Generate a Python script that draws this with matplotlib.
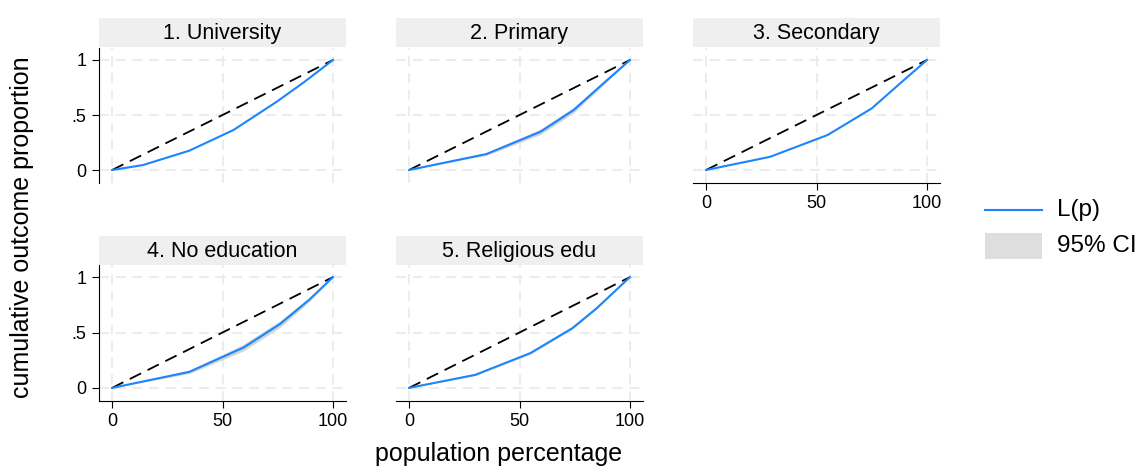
import matplotlib.pyplot as plt
import numpy as np

plt.rcParams["font.family"] = ["Liberation Sans", "DejaVu Sans"]

# Lorenz-type curves (x: population %, y: cumulative share)
titles = ["1. University", "2. Primary", "3. Secondary", "4. No education", "5. Religious edu"]

x_uni = [0, 14, 35, 55, 74.5, 87, 100]
y_uni = [0, 0.045, 0.176, 0.364, 0.62, 0.80, 1]

x_pri = [0, 35, 59.5, 74.5, 88, 100]
y_pri = [0, 0.145, 0.348, 0.545, 0.788, 1]
ci_pri = [0, 0.012, 0.025, 0.025, 0.015, 0]

x_sec = [0, 29, 55, 75, 88, 100]
y_sec = [0, 0.12, 0.318, 0.56, 0.79, 1]

x_noe = [0, 35, 59.5, 76, 89.5, 100]
y_noe = [0, 0.145, 0.364, 0.576, 0.80, 1]
ci_noe = [0, 0.015, 0.03, 0.03, 0.018, 0]

x_rel = [0, 30, 55, 74, 85, 100]
y_rel = [0, 0.118, 0.315, 0.54, 0.72, 1]
ci_rel = [0, 0.006, 0.01, 0.01, 0.006, 0]

series = [
    (x_uni, y_uni, None),
    (x_pri, y_pri, ci_pri),
    (x_sec, y_sec, None),
    (x_noe, y_noe, ci_noe),
    (x_rel, y_rel, ci_rel),
]

xticks = [0, 50, 100]
yticks = [0, 0.5, 1]
ytick_labels = ["0", ".5", "1"]

W, H = 1141, 468
fig = plt.figure(figsize=(W / 100, H / 100), dpi=100)

def rect(x0, y0, x1, y1):
    # pixel box (top-left origin) -> figure fraction
    return [x0 / W, 1 - y1 / H, (x1 - x0) / W, (y1 - y0) / H]

cols = [(99, 346), (396, 643), (693, 940)]
rows = [(48, 183), (265, 401)]
strips = [(18, 47), (236, 265)]
pos = [(0, 0), (0, 1), (0, 2), (1, 0), (1, 1)]
# which panels show the left / bottom axis
show_left = [True, False, False, True, False]
show_bottom = [False, False, True, True, True]

blue = "#1a85ff"
band = "#d4d4d4"
grid_c = "#e9e9e9"

for i, (r, c) in enumerate(pos):
    x0, x1 = cols[c]
    y0, y1 = rows[r]
    ax = fig.add_axes(rect(x0, y0, x1, y1))
    xs, ys, ci = series[i]
    if ci is not None:
        lo = np.array(ys) - np.array(ci)
        hi = np.array(ys) + np.array(ci)
        ax.fill_between(xs, lo, hi, color=band, lw=0, zorder=2)
    ax.plot([0, 100], [0, 1], color="black", lw=1.3, dashes=(7, 4), zorder=3)
    ax.plot(xs, ys, color=blue, lw=1.5, zorder=4)

    ax.set_xlim(-5.9, 105.9)
    ax.set_ylim(-0.118, 1.109)
    ax.set_xticks(xticks)
    ax.set_yticks(yticks)
    ax.set_yticklabels(ytick_labels)
    ax.grid(True, color=grid_c, lw=1.2, ls=(0, (6, 4)), zorder=0)
    for s in ["top", "right"]:
        ax.spines[s].set_visible(False)
    ax.spines["left"].set_visible(show_left[i])
    ax.spines["bottom"].set_visible(show_bottom[i])
    ax.tick_params(axis="y", length=5 if show_left[i] else 0, labelleft=show_left[i],
                   labelsize=13, pad=4)
    ax.tick_params(axis="x", length=5 if show_bottom[i] else 0, labelbottom=show_bottom[i],
                   labelsize=13, pad=4)

    sy0, sy1 = strips[r]
    sax = fig.add_axes(rect(x0, sy0, x1, sy1))
    sax.set_facecolor("#efefef")
    sax.set_xticks([])
    sax.set_yticks([])
    for s in sax.spines.values():
        s.set_visible(False)
    sax.text(0.5, 0.45, titles[i], ha="center", va="center", fontsize=15.5, transform=sax.transAxes)

fig.text(22 / W, 1 - 227 / H, "cumulative outcome proportion", rotation=90,
         ha="center", va="center", fontsize=18)
fig.text(499 / W, 1 - 461 / H, "population percentage", ha="center", va="baseline", fontsize=18)

# legend
fig.add_artist(plt.Line2D([985 / W, 1042 / W], [1 - 210 / H, 1 - 210 / H], color=blue, lw=1.5))
fig.add_artist(plt.Rectangle((985 / W, 1 - 259 / H), 57 / W, 26 / H, color="#dedede", lw=0))
fig.text(1057 / W, 1 - 210 / H, "L(p)", ha="left", va="center", fontsize=17.5)
fig.text(1057 / W, 1 - 246 / H, "95% CI", ha="left", va="center", fontsize=17.5)

fig.savefig("out.png", dpi=100)
